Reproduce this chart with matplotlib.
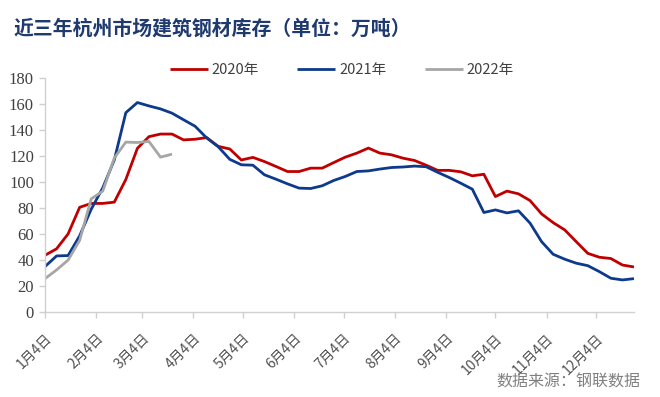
import matplotlib
matplotlib.use("Agg")
import matplotlib.pyplot as plt
import pandas as pd

plt.rcParams['font.family'] = ['Noto Sans CJK SC', 'DejaVu Sans']

title = "近三年杭州市场建筑钢材库存（单位：万吨）"
source = "数据来源：钢联数据"
series_names = ["2020年", "2021年", "2022年"]
month_labels = ["1月4日", "2月4日", "3月4日", "4月4日", "5月4日", "6月4日",
                "7月4日", "8月4日", "9月4日", "10月4日", "11月4日", "12月4日"]

v2020 = [43.5, 48.5, 60, 80.5, 83.5, 83.5, 84.5, 102, 126, 135, 137, 137,
         132.5, 133, 134.3, 127.5, 125.5, 117, 119, 115.8, 112, 108.1, 108.1,
         110.7, 110.7, 115, 119.2, 122.3, 126.2, 122.3, 121, 118.4, 116.6, 113,
         109, 109, 107.9, 104.8, 106, 88.8, 93, 90.9, 85.7, 75.4, 68.7, 63.1,
         54, 45, 42, 41, 36, 34.5]
v2021 = [34.8, 43, 43.3, 58.5, 79, 95.5, 117, 153.5, 161.3, 158.7, 156.4, 153.1,
         148, 143, 134, 127.2, 117.5, 113.3, 113, 105.6, 102.2, 98.6, 95.3, 95,
         97.1, 101.2, 104.3, 108.1, 108.6, 110, 111.2, 111.6, 112.3, 111.8,
         107.5, 103.5, 99.1, 94.5, 76.5, 78.5, 76.2, 77.8, 68.3, 54, 44.3, 40.5,
         37.4, 35.5, 30.9, 25.8, 24.5, 25.5]
v2022 = [25.5, 32.2, 39.8, 55, 87, 93, 118.5, 130.8, 130.5, 131.3, 119.2, 121.5]

colors = ["#C00000", "#0D3A8C", "#A6A6A6"]

fig = plt.figure(figsize=(6.6, 3.97), dpi=100)
ax = fig.add_axes([45/660, 1-311.7/397, (634-45)/660, (311.7-78.3)/397])

for vals, name, c in zip([v2020, v2021, v2022], series_names, colors):
    ax.plot(range(len(vals)), vals, color=c, lw=2.0, label=name,
            solid_joinstyle='round', solid_capstyle='butt')

ax.set_xlim(0, 51)
ax.set_ylim(0, 180)
ax.set_yticks(range(0, 181, 20))
ax.set_yticklabels([str(v) for v in range(0, 181, 20)],
                   family='Liberation Serif', fontsize=12, color='#404040')

base = pd.Timestamp(2021, 1, 4)
xt = [(pd.Timestamp(2021, m, 4) - base).days / 7 for m in range(1, 13)]
ax.set_xticks(xt)
ax.set_xticklabels(month_labels, rotation=45, ha='right', rotation_mode='anchor',
                   fontsize=10, color='#404040')

for s in ['top', 'right']:
    ax.spines[s].set_visible(False)
for s in ['left', 'bottom']:
    ax.spines[s].set_color('#D0D0D0')
    ax.spines[s].set_linewidth(1.0)
ax.tick_params(axis='both', colors='#D0D0D0', length=4, width=1.0)
ax.tick_params(axis='x', labelcolor='#505050', pad=10)
ax.tick_params(axis='y', labelcolor='#404040', pad=4)

leg = fig.legend(loc='center', bbox_to_anchor=(0.518, 1-70/397), ncol=3,
                 frameon=False, fontsize=10.5, handlelength=2.6,
                 columnspacing=2.6, handletextpad=0.3)
for t in leg.get_texts():
    t.set_color('#404040')

fig.text(14/660, 1-28/397, title, fontsize=14.3, fontweight='bold',
         color='#1F3A6E', ha='left', va='center')
fig.text(640/660, 1-382/397, source, fontsize=11.5, color='#808080',
         ha='right', va='center')

fig.savefig("out.png", dpi=100)
